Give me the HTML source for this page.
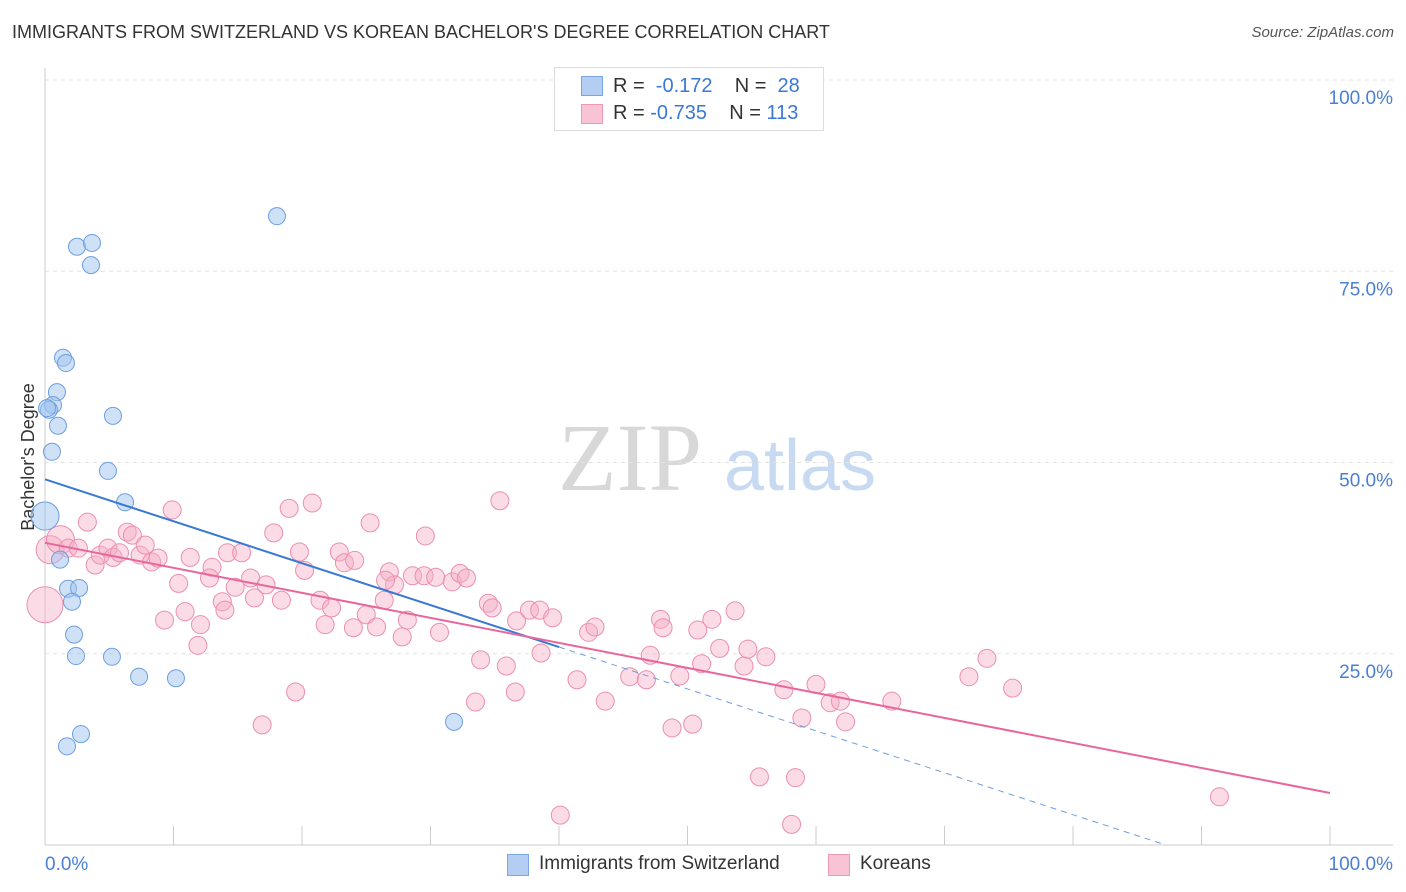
<!DOCTYPE html>
<html><head><meta charset="utf-8"><style>
body{margin:0;background:#fff;font-family:"Liberation Sans",sans-serif}
#wrap{position:relative;width:1406px;height:892px;overflow:hidden}
.t{position:absolute;white-space:nowrap}
</style></head><body>
<div id="wrap">
<div class="t" style="left:12px;top:22px;font-size:18px;color:#333">IMMIGRANTS FROM SWITZERLAND VS KOREAN BACHELOR'S DEGREE CORRELATION CHART</div>
<div class="t" style="right:12px;top:24px;font-size:15px;color:#555;font-style:italic">Source: ZipAtlas.com</div>
<svg id="svg" width="1406" height="892" style="position:absolute;left:0;top:0">
<text x="630" y="490" font-size="96" font-family="Liberation Serif" fill="#d8d8d8" text-anchor="middle">ZIP</text>
<text x="800" y="490" font-size="72" fill="#c8daf2" text-anchor="middle">atlas</text>
<text transform="translate(34,457) rotate(-90)" font-size="18" fill="#333" text-anchor="middle">Bachelor's Degree</text>
<g id="grid"></g><g id="marks"></g>
</svg>
<div class="t" style="left:554px;top:67px;width:268px;height:62px;border:1px solid #ddd;background:#fff">
 <div style="position:absolute;left:26px;top:8px;width:20px;height:18px;background:#b3cdf3;border:1px solid #7aa6e2"></div>
 <div class="t" style="left:58px;top:7px;font-size:20px;color:#333">R = &nbsp;<span style="color:#3a78d6">-0.172</span> &nbsp;&nbsp; N = &nbsp;<span style="color:#3a78d6">28</span></div>
 <div style="position:absolute;left:26px;top:36px;width:20px;height:18px;background:#f8c4d5;border:1px solid #ee9ab7"></div>
 <div class="t" style="left:58px;top:34px;font-size:20px;color:#333">R = <span style="color:#3a78d6">-0.735</span> &nbsp;&nbsp; N = <span style="color:#3a78d6">113</span></div>
</div>
<div style="position:absolute;left:507px;top:854px;width:20px;height:20px;background:#b3cdf3;border:1px solid #7aa6e2"></div>
<div class="t" style="left:539px;top:853px;font-size:19px;color:#333">Immigrants from Switzerland</div>
<div style="position:absolute;left:828px;top:854px;width:20px;height:20px;background:#f8c4d5;border:1px solid #ee9ab7"></div>
<div class="t" style="left:860px;top:853px;font-size:19px;color:#333">Koreans</div>
</div>
<script>
const yTicks=[25,50,75,100];
const yTickLabels=["25.0%","50.0%","75.0%","100.0%"];
const blueX=[18.05,2.49,3.66,3.58,1.4,1.63,0.93,0.62,0.31,0.16,5.29,1.01,0.54,4.9,6.23,0,1.17,1.79,2.65,2.1,2.26,2.41,5.21,7.32,10.19,31.83,2.8,1.71];
const blueY=[82.2,78.2,78.7,75.8,63.7,63.0,59.2,57.5,56.9,57.1,56.1,54.8,51.4,48.9,44.8,43.0,37.3,33.5,33.6,31.8,27.5,24.7,24.6,22.0,21.8,16.1,14.5,12.9];
const pinkX=[0,0.4,1.2,1.8,2.6,3.3,3.9,4.3,4.9,5.3,5.8,6.4,6.8,7.4,7.8,8.3,8.8,9.9,9.3,10.4,10.9,11.3,11.9,12.1,13.0,12.8,13.8,14.2,14.8,15.3,16.0,16.3,17.2,17.8,18.4,19.0,19.8,20.2,20.8,21.4,21.8,22.3,22.9,23.3,24.1,24.0,25.3,25.0,25.8,26.4,26.8,27.2,27.8,28.2,28.6,29.5,29.6,30.4,30.7,31.7,32.3,32.8,34.5,34.8,33.5,33.9,35.4,35.9,36.6,36.7,37.7,38.5,39.5,38.6,40.1,41.4,42.3,42.8,43.6,45.5,46.8,47.9,48.1,47.1,48.8,49.4,50.4,50.8,51.1,51.9,52.5,53.7,54.4,54.7,56.1,55.6,57.5,58.4,58.1,58.9,60.0,61.1,61.9,62.3,65.9,71.9,73.3,75.3,91.4,16.9,19.5,14.0,26.5];
const pinkY=[31.4,38.6,39.9,38.8,38.8,42.2,36.6,37.9,38.8,37.6,38.2,40.9,40.5,37.9,39.2,37.0,37.5,43.8,29.4,34.2,30.5,37.6,26.1,28.8,36.3,34.9,31.8,38.2,33.7,38.2,34.9,32.3,34.0,40.8,32.0,44.0,38.3,35.9,44.7,32.0,28.8,31.0,38.3,36.9,37.2,28.4,42.1,30.1,28.5,32.0,35.7,34.0,27.2,29.4,35.2,35.2,40.4,35.0,27.8,34.4,35.5,34.9,31.6,31.0,18.7,24.2,45.0,23.4,20.0,29.3,30.7,30.7,29.7,25.1,3.9,21.6,27.8,28.5,18.8,22.0,21.6,29.5,28.4,24.8,15.3,22.1,15.8,28.1,23.7,29.5,25.7,30.6,23.4,25.6,24.6,8.9,20.3,8.8,2.7,16.6,21.0,18.6,18.8,16.1,18.8,22.0,24.4,20.5,6.3,15.7,20.0,30.7,34.6];
const blueTrend=[47.8,-0.548]; // intercept, slope
const pinkTrend=[39.5,-0.327];
const X=v=>45+v*12.85, Y=v=>845-v*7.65;
const NS="http://www.w3.org/2000/svg";
function mk(tag,attrs,parent){const e=document.createElementNS(NS,tag);for(const k in attrs)e.setAttribute(k,attrs[k]);parent.appendChild(e);return e;}
const grid=document.getElementById('grid'),marks=document.getElementById('marks');
yTicks.forEach((t,i)=>{
 const l=mk('line',{x1:45,x2:1393,y1:Y(t),y2:Y(t),stroke:'#e2e2e2','stroke-dasharray':'4,4'},grid);
 
 
 const tx=mk('text',{x:1393,y:Y(t)+24,'font-size':19,fill:'#4a7fd4','text-anchor':'end'},grid);
 tx.textContent=yTickLabels[i];
 
 
});
const ax=mk('line',{x1:45,x2:1393,y1:845,y2:845,stroke:'#ccc'},grid);


const ay=mk('line',{x1:45,x2:45,y1:68,y2:845,stroke:'#ccc'},grid);


for(let i=0;i<=10;i++){const t=mk('line',{x1:X(i*10),x2:X(i*10),y1:826,y2:845,stroke:'#ccc'},grid);
 
 }
[["0.0%",45,'start'],["100.0%",1393,'end']].forEach(a=>{const t=mk('text',{x:a[1],y:870,'font-size':19,fill:'#4a7fd4','text-anchor':a[2]},grid);t.textContent=a[0];
 
 });
pinkX.forEach((x,i)=>{const r=i<3?(i==0?18:14):9;
 const c=mk('circle',{cx:X(x),cy:Y(pinkY[i]),r:r,fill:'rgba(245,175,200,0.45)',stroke:'#ec8fae','stroke-width':1},marks);
 
 });
blueX.forEach((x,i)=>{const r=blueY[i]==43.0?14:8.5;
 const c=mk('circle',{cx:X(x),cy:Y(blueY[i]),r:r,fill:'rgba(160,195,240,0.5)',stroke:'#6d9fe0','stroke-width':1},marks);
 
 });
const bx0=0,bx1=40,bxe=-blueTrend[0]/blueTrend[1];
const b1=mk('line',{x1:X(bx0),y1:Y(blueTrend[0]),x2:X(bx1),y2:Y(blueTrend[0]+blueTrend[1]*bx1),stroke:'#3a78d6','stroke-width':2},marks);


const b2=mk('line',{x1:X(bx1),y1:Y(blueTrend[0]+blueTrend[1]*bx1),x2:X(bxe),y2:Y(0),stroke:'#6d9fe0','stroke-width':1,'stroke-dasharray':'6,5'},marks);


const p1=mk('line',{x1:X(0),y1:Y(pinkTrend[0]),x2:X(100),y2:Y(pinkTrend[0]+pinkTrend[1]*100),stroke:'#e8669a','stroke-width':2},marks);


</script>
</body></html>
